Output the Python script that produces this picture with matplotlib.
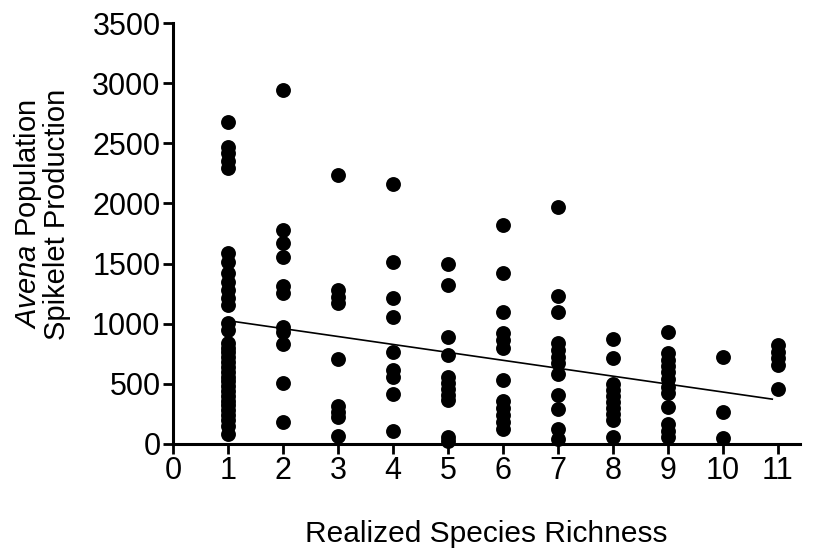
import matplotlib
matplotlib.use("Agg")
import matplotlib.pyplot as plt
import numpy as np

# Realized species richness groups and Avena spikelet production values
richness = [1, 2, 3, 4, 5, 6, 7, 8, 9, 10, 11]
s1 = [2675, 2470, 2415, 2355, 2292, 1585, 1516, 1420, 1350, 1280, 1211, 1155,
      1003, 945, 840, 800, 760, 720, 680, 640, 600, 560, 520, 480, 440, 400,
      360, 320, 280, 240, 200, 150, 80]
s2 = [2940, 1780, 1668, 1552, 1310, 1252, 975, 933, 831, 504, 185]
s3 = [2236, 1280, 1225, 1170, 707, 316, 268, 227, 69]
s4 = [2159, 1516, 1216, 1058, 767, 615, 560, 413, 108]
s5 = [1500, 1325, 885, 735, 560, 510, 460, 410, 365, 61, 20]
s6 = [1820, 1424, 1100, 925, 864, 795, 532, 360, 300, 240, 180, 120]
s7 = [1973, 1230, 1095, 837, 780, 720, 671, 582, 407, 288, 125, 40]
s8 = [870, 712, 500, 450, 400, 350, 300, 250, 200, 61]
s9 = [930, 754, 700, 650, 600, 540, 476, 421, 306, 165, 110, 61]
s10 = [726, 269, 47]
s11 = [823, 767, 712, 657, 454]
groups = [s1, s2, s3, s4, s5, s6, s7, s8, s9, s10, s11]

# Regression line
fit_x = [1, 10.9]
fit_y = [1025, 372]

xticks = list(range(0, 12))
yticks = list(range(0, 3501, 500))

plt.rcParams['font.family'] = ['Liberation Sans', 'DejaVu Sans']
plt.rcParams['mathtext.fontset'] = 'custom'
plt.rcParams['mathtext.rm'] = 'Liberation Sans'
plt.rcParams['mathtext.it'] = 'Liberation Sans:italic'

fig = plt.figure(figsize=(8.14, 5.48), dpi=100)
ax = fig.add_axes([0.2125, 0.19, 0.77, 0.768])

xs = np.concatenate([[r] * len(g) for r, g in zip(richness, groups)])
ys = np.concatenate(groups)
ax.scatter(xs, ys, s=115, color='black', zorder=3, clip_on=False, linewidths=0)
ax.plot(fit_x, fit_y, color='black', lw=1.2, zorder=2)

ax.set_xlim(0, 11.4)
ax.set_ylim(0, 3500)
ax.set_xticks(xticks)
ax.set_yticks(yticks)
ax.tick_params(axis='both', direction='out', length=7, width=2, labelsize=22,
               pad=2)
for side in ['top', 'right']:
    ax.spines[side].set_visible(False)
for side in ['left', 'bottom']:
    ax.spines[side].set_linewidth(2.2)

ax.set_xlabel('Realized Species Richness', fontsize=21.5, labelpad=24)
ax.set_ylabel('$\\mathit{Avena}$ Population\nSpikelet Production', fontsize=21,
              linespacing=0.95)
ax.yaxis.set_label_coords(-0.163, 0.545)

fig.savefig('out.png', dpi=100, facecolor='white')
